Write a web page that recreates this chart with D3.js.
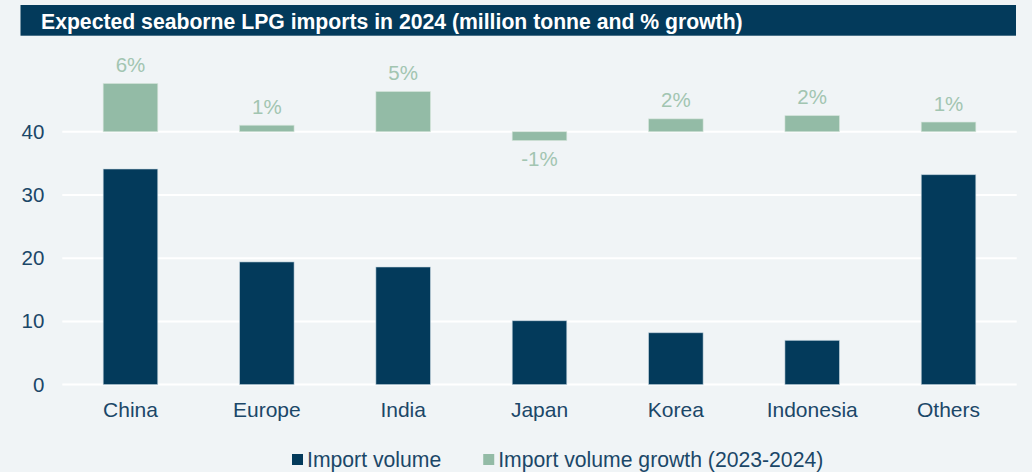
<!DOCTYPE html>
<html>
<head>
<meta charset="utf-8">
<script src="https://cdn.jsdelivr.net/npm/d3@7"></script>
<style>
  html, body { margin: 0; padding: 0; background: #f0f4f6; }
  svg { display: block; font-family: "Liberation Sans", Arial, sans-serif; }
</style>
</head>
<body>
<svg id="chart" width="1032" height="472"></svg>
<script>
// Expected seaborne LPG imports in 2024
const title = "Expected seaborne LPG imports in 2024 (million tonne and % growth)";
const regions = ["China", "Europe", "India", "Japan", "Korea", "Indonesia", "Others"];
const importVolume = [34.1, 19.4, 18.6, 10.1, 8.2, 7.0, 33.2];         // million tonne
const importGrowth = [0.060, 0.008, 0.050, -0.011, 0.016, 0.020, 0.012]; // 2023-2024
const yTicks = [0, 10, 20, 30, 40];
const seriesNames = ["Import volume", "Import volume growth (2023-2024)"];

// Growth bars sit on the 40 line; one growth point spans this many volume units
const growthBase = 40;
const unitsPerPoint = 1.27;

const colors = {
  bg: "#f0f4f6",
  navy: "#033a5b",
  green: "#93bba6",
  greenText: "#a2c5b1",
  text: "#1b4768",
  grid: "#ffffff"
};

const svg = d3.select("#chart");
const W = 1032, H = 472;
svg.append("rect").attr("width", W).attr("height", H).attr("fill", colors.bg);

// Title banner
svg.append("rect")
  .attr("x", 20.5).attr("y", 5).attr("width", 995.5).attr("height", 30.7)
  .attr("fill", colors.navy);
svg.append("text")
  .attr("x", 41).attr("y", 28.5)
  .attr("fill", "#ffffff")
  .attr("font-size", 21.2).attr("font-weight", "bold")
  .text(title);

const plot = { left: 62.3, right: 1016.7, bottom: 384.6, top: 131.7 };

const x = d3.scaleBand()
  .domain(regions)
  .range([plot.left, plot.right])
  .paddingInner(0.6)
  .paddingOuter(0.3);

const y = d3.scaleLinear()
  .domain([0, 40])
  .range([plot.bottom, plot.top]);

// Secondary scale for growth, anchored on the 40 line
const yG = d3.scaleLinear()
  .domain([0, 0.01])
  .range([y(growthBase), y(growthBase + unitsPerPoint)]);

// Gridlines
svg.append("g")
  .selectAll("line")
  .data(yTicks)
  .join("line")
  .attr("x1", plot.left).attr("x2", plot.right)
  .attr("y1", d => y(d)).attr("y2", d => y(d))
  .attr("stroke", colors.grid).attr("stroke-width", 2);

// Y axis labels
const yAxis = svg.append("g")
  .attr("transform", `translate(${plot.left},0)`)
  .call(d3.axisLeft(y).tickValues(yTicks).tickSize(0).tickPadding(18));
yAxis.select(".domain").remove();
yAxis.selectAll("text")
  .attr("fill", colors.text)
  .attr("font-size", 20.5)
  .attr("font-family", "'Liberation Sans', Arial, sans-serif");

// X axis labels
const xAxis = svg.append("g")
  .attr("transform", `translate(0,${plot.bottom})`)
  .call(d3.axisBottom(x).tickSize(0).tickPadding(17));
xAxis.select(".domain").remove();
xAxis.selectAll("text")
  .attr("fill", colors.text)
  .attr("font-size", 21)
  .attr("font-family", "'Liberation Sans', Arial, sans-serif");

// Import volume bars
svg.append("g")
  .selectAll("rect")
  .data(regions.map((r, i) => ({ r, v: importVolume[i] })))
  .join("rect")
  .attr("x", d => x(d.r))
  .attr("width", x.bandwidth())
  .attr("y", d => y(d.v))
  .attr("height", d => y(0) - y(d.v))
  .attr("fill", colors.navy)
  .attr("stroke", "#c9d8e2").attr("stroke-width", 0.8).attr("stroke-opacity", 0.7);

// Growth bars
const growth = regions.map((r, i) => ({ r, g: importGrowth[i] }));
svg.append("g")
  .selectAll("rect")
  .data(growth)
  .join("rect")
  .attr("x", d => x(d.r))
  .attr("width", x.bandwidth())
  .attr("y", d => Math.min(yG(d.g), yG(0)))
  .attr("height", d => Math.abs(yG(0) - yG(d.g)))
  .attr("fill", colors.green)
  .attr("stroke", "#d6e6dc").attr("stroke-width", 0.8).attr("stroke-opacity", 0.7);

// Growth labels (plain hyphen for negatives)
const pct = d3.formatLocale({ decimal: ".", thousands: ",", grouping: [3], currency: ["", ""], minus: "-" }).format(".0%");
svg.append("g")
  .selectAll("text")
  .data(growth)
  .join("text")
  .attr("x", d => x(d.r) + x.bandwidth() / 2)
  .attr("y", d => d.g >= 0 ? yG(d.g) - 11.5 : yG(d.g) + 25)
  .attr("text-anchor", "middle")
  .attr("fill", colors.greenText)
  .attr("font-size", 20.5)
  .text(d => pct(d.g));

// Legend
const legend = svg.append("g").attr("transform", "translate(292,0)");
const legendColors = [colors.navy, colors.green];
let lx = 0;
seriesNames.forEach((name, i) => {
  legend.append("rect")
    .attr("x", lx).attr("y", 454)
    .attr("width", 11).attr("height", 11)
    .attr("fill", legendColors[i]);
  const t = legend.append("text")
    .attr("x", lx + 15).attr("y", 466.5)
    .attr("fill", colors.text)
    .attr("font-size", 21.2)
    .text(name);
  lx += 15 + t.node().getComputedTextLength() + 42;
});
</script>
</body>
</html>
